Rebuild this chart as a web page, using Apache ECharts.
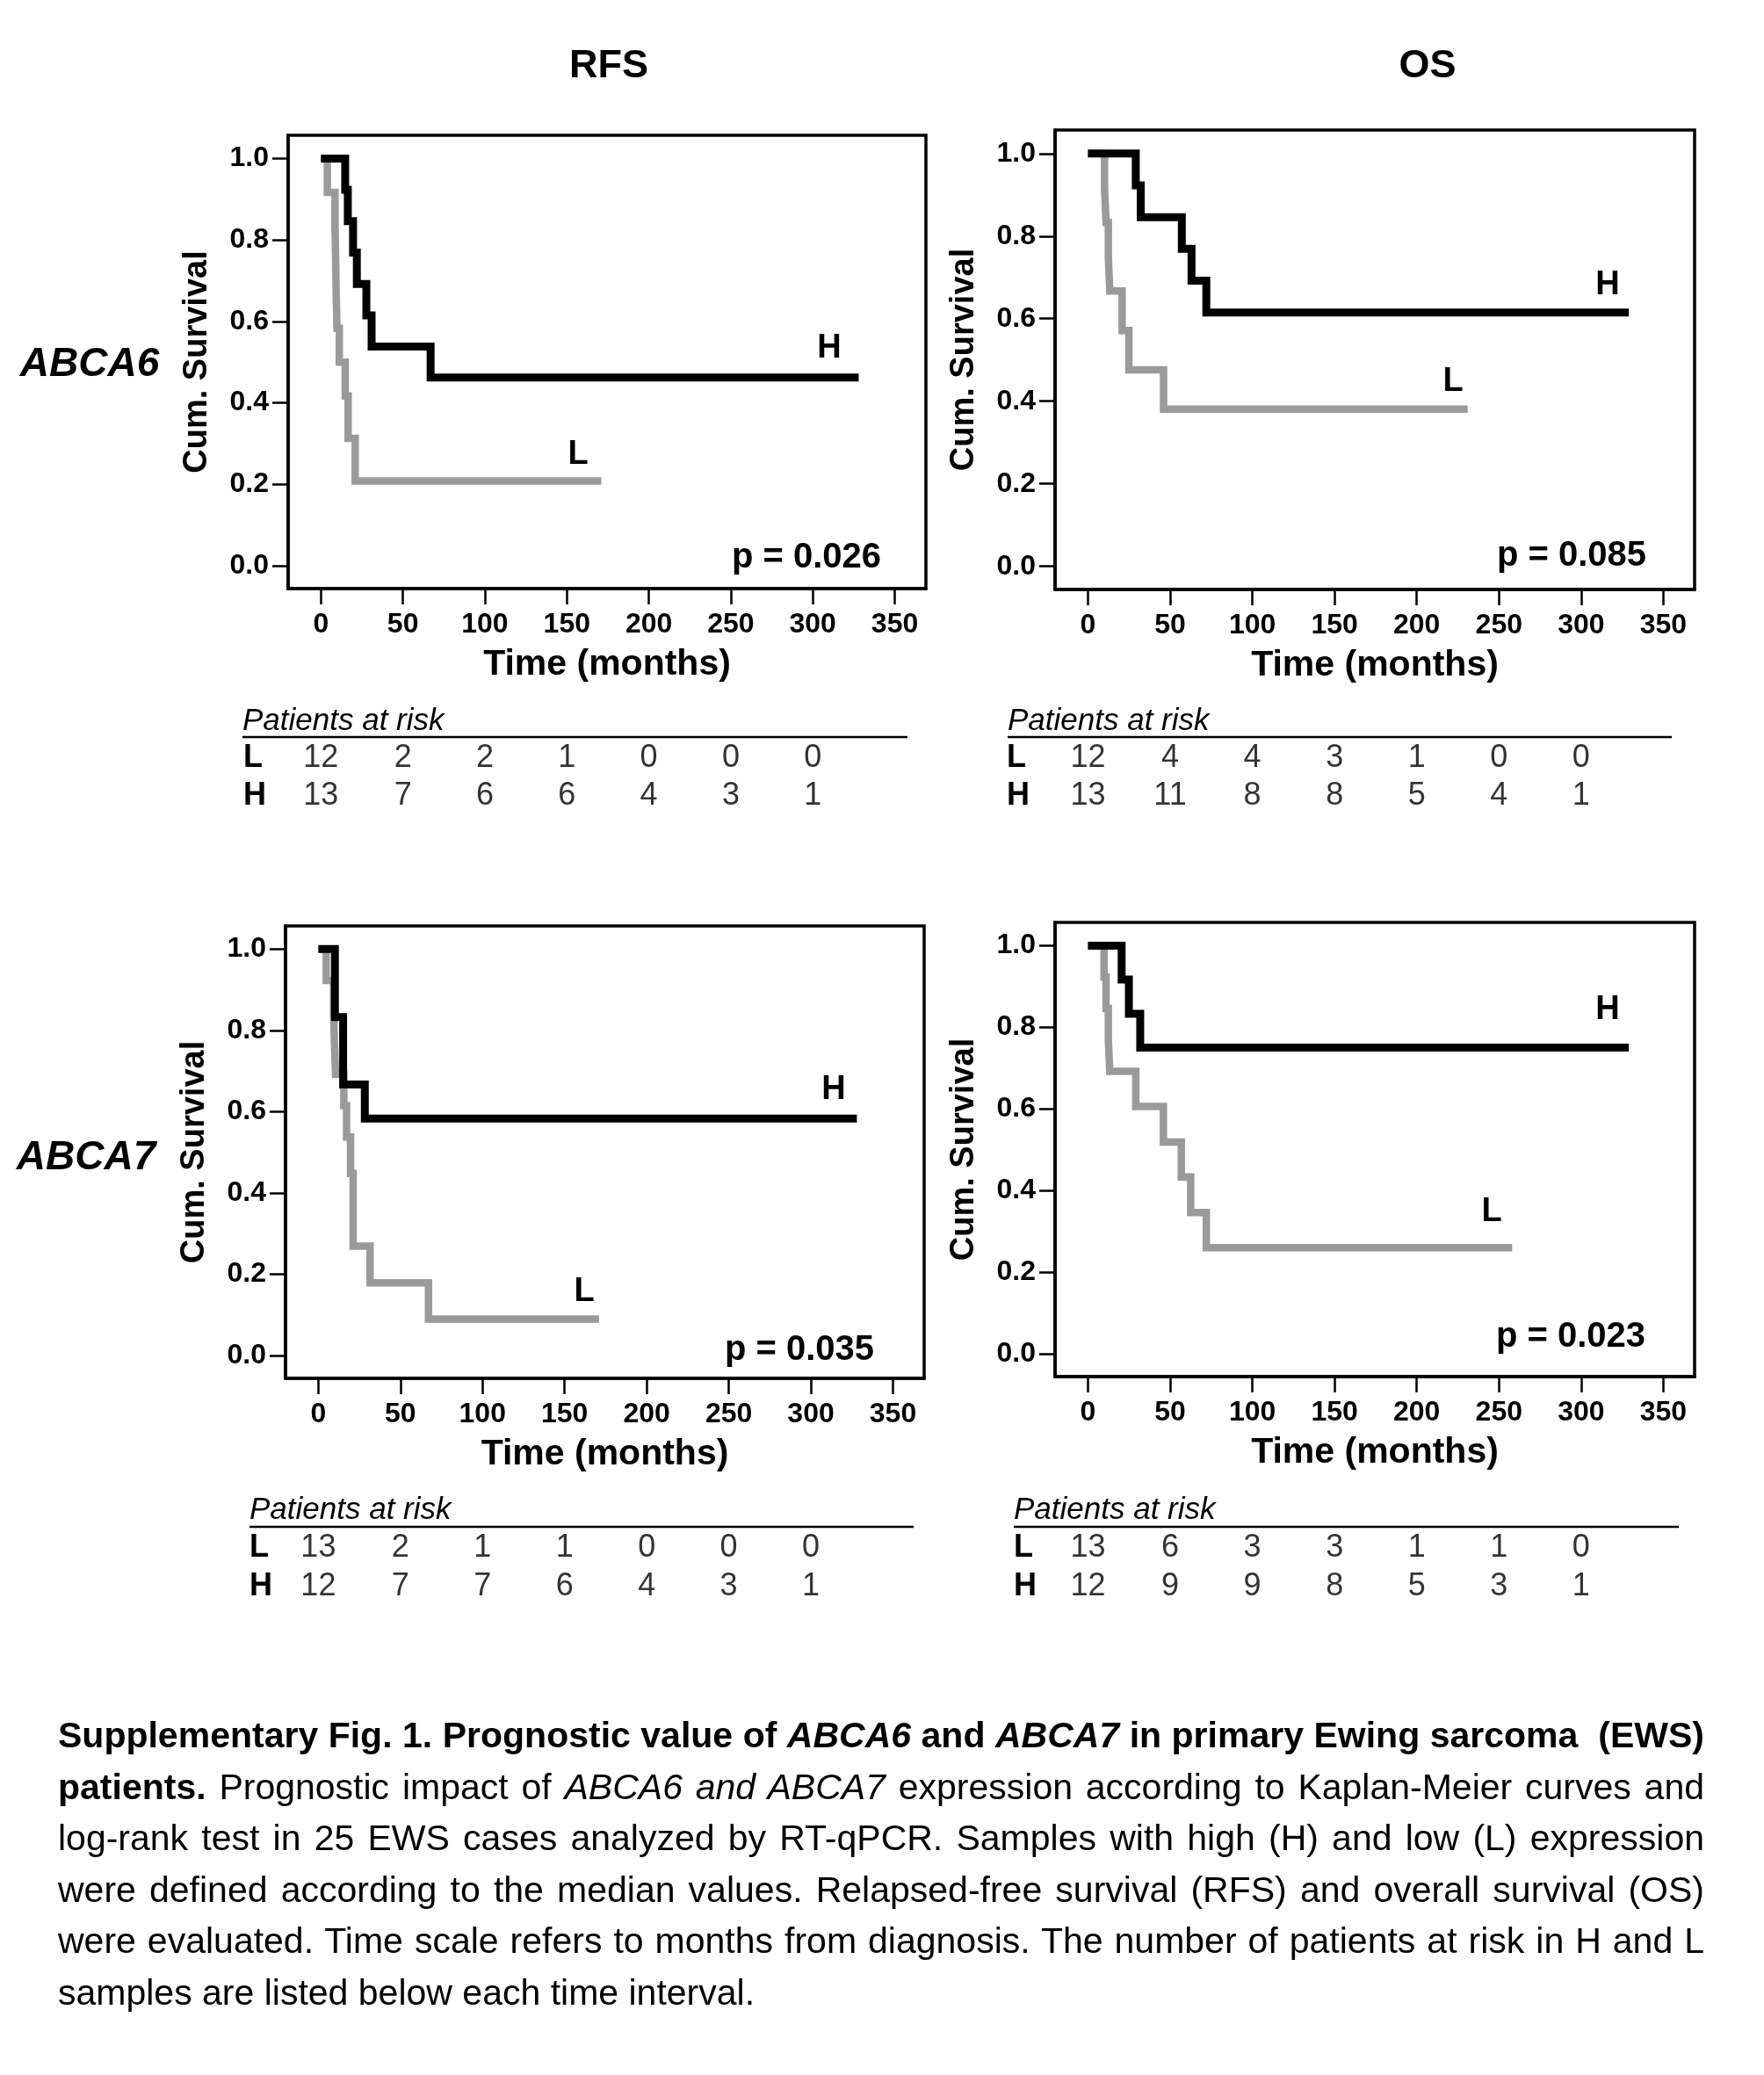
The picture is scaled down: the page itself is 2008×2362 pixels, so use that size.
<!DOCTYPE html>
<html>
<head>
<meta charset="utf-8">
<title>ABCA6 / ABCA7 Kaplan-Meier</title>
<script src="https://cdn.jsdelivr.net/npm/echarts@6.0.0/dist/echarts.min.js"></script>
<style>
  html, body { margin: 0; padding: 0; background: #fff; }
  #chart { position: absolute; left: 0; top: 0; width: 2008px; height: 2362px; }
  #caption { position: absolute; left: 66px; top: 1946px; width: 1874px;
             font-family: "Liberation Sans", Arial, sans-serif; font-size: 41px; color: #000; }
  #caption div { height: 58.6px; line-height: 58.6px; text-align: justify; text-align-last: justify; }
  #caption div.last { text-align-last: left; }
</style>
</head>
<body>
<div id="chart"></div>
<div id="caption">
  <div><b>Supplementary Fig. 1. Prognostic value of <i>ABCA6</i> and <i>ABCA7</i> in primary Ewing sarcoma&nbsp; (EWS)</b></div>
  <div><b>patients.</b> Prognostic impact of <i>ABCA6 and ABCA7</i> expression according to Kaplan-Meier curves and</div>
  <div>log-rank test in 25 EWS cases analyzed by RT-qPCR. Samples with high (H) and low (L) expression</div>
  <div>were defined according to the median values. Relapsed-free survival (RFS) and overall survival (OS)</div>
  <div>were evaluated. Time scale refers to months from diagnosis. The number of patients at risk in H and L</div>
  <div class="last">samples are listed below each time interval.</div>
</div>
<script>
// ticks
var xTicks = [0, 50, 100, 150, 200, 250, 300, 350];
var yTicks = [0, 0.2, 0.4, 0.6, 0.8, 1.0];
var riskTimes = [0, 50, 100, 150, 200, 250, 300];
var riskRows = ['L', 'H'];

// ABCA6 RFS (months, cum. survival)
var a6RfsH_t = [0, 14.8, 16.4, 19.6, 21.9, 27.7, 30.9, 66.9, 328];
var a6RfsH_s = [1, 0.923, 0.846, 0.769, 0.692, 0.615, 0.538, 0.462, 0.462];
var a6RfsL_t = [0, 3.9, 8.6, 9.0, 9.3, 9.8, 11.2, 14.8, 16.6, 20.9, 171];
var a6RfsL_s = [1, 0.917, 0.833, 0.75, 0.667, 0.583, 0.5, 0.417, 0.313, 0.208, 0.208];
var a6RfsRiskL = [12, 2, 2, 1, 0, 0, 0];
var a6RfsRiskH = [13, 7, 6, 6, 4, 3, 1];

// ABCA6 OS
var a6OsH_t = [0, 29.1, 32.1, 57.1, 63.0, 72.0, 329];
var a6OsH_s = [1, 0.923, 0.846, 0.769, 0.692, 0.615, 0.615];
var a6OsL_t = [0, 10.1, 11.0, 12.4, 13.3, 20.8, 24.9, 46.0, 231];
var a6OsL_s = [1, 0.917, 0.833, 0.75, 0.667, 0.571, 0.476, 0.381, 0.381];
var a6OsRiskL = [12, 4, 4, 3, 1, 0, 0];
var a6OsRiskH = [13, 11, 8, 8, 5, 4, 1];

// ABCA7 RFS
var a7RfsH_t = [0, 10.1, 15.1, 28.3, 328];
var a7RfsH_s = [1, 0.833, 0.667, 0.583, 0.583];
var a7RfsL_t = [0, 4.8, 9.3, 9.8, 10.5, 15.5, 17.2, 19.6, 21.2, 31.5, 67.1, 171];
var a7RfsL_s = [1, 0.923, 0.846, 0.769, 0.692, 0.615, 0.538, 0.448, 0.269, 0.179, 0.090, 0.090];
var a7RfsRiskL = [13, 2, 1, 1, 0, 0, 0];
var a7RfsRiskH = [12, 7, 7, 6, 4, 3, 1];

// ABCA7 OS
var a7OsH_t = [0, 20.5, 24.9, 31.8, 329];
var a7OsH_s = [1, 0.917, 0.833, 0.75, 0.75];
var a7OsL_t = [0, 9.8, 11.0, 12.4, 13.3, 29.1, 45.9, 56.8, 62.5, 72.0, 258];
var a7OsL_s = [1, 0.923, 0.846, 0.769, 0.692, 0.606, 0.519, 0.433, 0.346, 0.260, 0.260];
var a7OsRiskL = [13, 6, 3, 3, 1, 1, 0];
var a7OsRiskH = [12, 9, 9, 8, 5, 3, 1];

var FONT = '"Liberation Sans", Arial, sans-serif';

// layout of each panel (pixels)
var panels = [
  {grid: {left: 328, top: 154, width: 726, height: 516}, risk: {top: 842, height: 86, margin: 51},
   hT: a6RfsH_t, hS: a6RfsH_s, lT: a6RfsL_t, lS: a6RfsL_s, rL: a6RfsRiskL, rH: a6RfsRiskH,
   p: 'p = 0.026', pPos: [1003, 635], hPos: [944, 397], lPos: [658, 518],
   head: [276, 821, 1033, 839]},
  {grid: {left: 1201, top: 148, width: 728, height: 523}, risk: {top: 842, height: 86, margin: 55},
   hT: a6OsH_t, hS: a6OsH_s, lT: a6OsL_t, lS: a6OsL_s, rL: a6OsRiskL, rH: a6OsRiskH,
   p: 'p = 0.085', pPos: [1874, 633], hPos: [1830, 325], lPos: [1654, 435],
   head: [1147, 821, 1903, 839]},
  {grid: {left: 325, top: 1054, width: 727, height: 515}, risk: {top: 1740, height: 88, margin: 41},
   hT: a7RfsH_t, hS: a7RfsH_s, lT: a7RfsL_t, lS: a7RfsL_s, rL: a7RfsRiskL, rH: a7RfsRiskH,
   p: 'p = 0.035', pPos: [995, 1537], hPos: [949, 1241], lPos: [665, 1471],
   head: [284, 1719, 1040, 1738]},
  {grid: {left: 1201, top: 1050, width: 728, height: 517}, risk: {top: 1740, height: 88, margin: 47},
   hT: a7OsH_t, hS: a7OsH_s, lT: a7OsL_t, lS: a7OsL_s, rL: a7OsRiskL, rH: a7OsRiskH,
   p: 'p = 0.023', pPos: [1873, 1522], hPos: [1830, 1150], lPos: [1698, 1380],
   head: [1154, 1719, 1911, 1738]}
];

function zip(t, s) {
  var out = [];
  for (var i = 0; i < t.length; i++) out.push([t[i], s[i]]);
  return out;
}

function txt(x, y, text, font, align) {
  return {type: 'text', x: x, y: y, silent: true,
          style: {text: text, font: font, fill: '#000', textAlign: align || 'center', textVerticalAlign: 'middle'}};
}

var grids = [], xAxes = [], yAxes = [], series = [], graphics = [];

panels.forEach(function (pn, i) {
  var g = 2 * i, r = 2 * i + 1;
  grids.push({left: pn.grid.left, top: pn.grid.top, width: pn.grid.width, height: pn.grid.height,
              show: true, borderColor: '#000', borderWidth: 3.5, backgroundColor: 'transparent'});
  grids.push({left: pn.grid.left, top: pn.risk.top, width: pn.grid.width, height: pn.risk.height});

  xAxes.push({
    type: 'value', gridIndex: g, min: -20, max: 369,
    axisLine: {show: true, onZero: false, lineStyle: {color: '#000', width: 3.5}},
    axisTick: {show: true, customValues: xTicks, length: 18, lineStyle: {color: '#000', width: 2.5}},
    axisLabel: {customValues: xTicks, margin: 25, fontSize: 32, fontWeight: 'bold', color: '#000', fontFamily: FONT},
    splitLine: {show: false},
    name: 'Time (months)', nameLocation: 'middle', nameGap: 66,
    nameTextStyle: {fontSize: 41, fontWeight: 'bold', color: '#000', fontFamily: FONT}
  });
  yAxes.push({
    type: 'value', gridIndex: g, min: -0.056, max: 1.057,
    axisLine: {show: true, onZero: false, lineStyle: {color: '#000', width: 3.5}},
    axisTick: {show: true, customValues: yTicks, length: 18, lineStyle: {color: '#000', width: 2.5}},
    axisLabel: {customValues: yTicks, margin: 22, fontSize: 32, fontWeight: 'bold', color: '#000', fontFamily: FONT,
                formatter: function (v) { return v.toFixed(1); }},
    splitLine: {show: false},
    name: 'Cum. Survival', nameLocation: 'middle', nameGap: 84,
    nameTextStyle: {fontSize: 38, fontWeight: 'bold', color: '#000', fontFamily: FONT}
  });

  // risk table axes share the plot's time scale
  xAxes.push({type: 'value', gridIndex: r, min: -20, max: 369, show: false});
  yAxes.push({
    type: 'category', gridIndex: r, data: riskRows, inverse: true,
    axisLine: {show: false}, axisTick: {show: false}, splitLine: {show: false},
    axisLabel: {interval: 0, align: 'left', margin: pn.risk.margin, fontSize: 36, fontWeight: 'bold',
                color: '#000', fontFamily: FONT}
  });

  series.push({type: 'line', xAxisIndex: g, yAxisIndex: g, step: 'end', symbol: 'none', silent: true,
               data: zip(pn.lT, pn.lS), lineStyle: {color: '#9a9a9a', width: 8.5, join: 'miter', cap: 'butt'}});
  series.push({type: 'line', xAxisIndex: g, yAxisIndex: g, step: 'end', symbol: 'none', silent: true,
               data: zip(pn.hT, pn.hS), lineStyle: {color: '#000000', width: 9, join: 'miter', cap: 'butt'}});

  var riskData = [];
  riskTimes.forEach(function (t, k) {
    riskData.push([t, 0, pn.rL[k]]);
    riskData.push([t, 1, pn.rH[k]]);
  });
  series.push({type: 'scatter', xAxisIndex: r, yAxisIndex: r, symbolSize: 1, silent: true,
               itemStyle: {color: 'rgba(0,0,0,0)'}, data: riskData,
               label: {show: true, position: 'inside', fontSize: 36, color: '#000', fontFamily: FONT,
                       formatter: function (p) { return String(p.value[2]); }}});

  graphics.push(txt(pn.hPos[0], pn.hPos[1], 'H', 'bold 38px ' + FONT));
  graphics.push(txt(pn.lPos[0], pn.lPos[1], 'L', 'bold 38px ' + FONT));
  graphics.push(txt(pn.pPos[0], pn.pPos[1], pn.p, 'bold 40px ' + FONT, 'right'));
  graphics.push(txt(pn.head[0], pn.head[1], 'Patients at risk', 'italic 35px ' + FONT, 'left'));
  graphics.push({type: 'line', silent: true,
                 shape: {x1: pn.head[0], y1: pn.head[3], x2: pn.head[2], y2: pn.head[3]},
                 style: {stroke: '#000', lineWidth: 2.5}});
});

graphics.push(txt(693, 76, 'RFS', 'bold 45px ' + FONT));
graphics.push(txt(1625, 76, 'OS', 'bold 45px ' + FONT));
graphics.push(txt(102, 415, 'ABCA6', 'italic bold 46px ' + FONT));
graphics.push(txt(98, 1318, 'ABCA7', 'italic bold 46px ' + FONT));

var chart = echarts.init(document.getElementById('chart'), null, {renderer: 'canvas'});
chart.setOption({
  animation: false,
  backgroundColor: '#fff',
  textStyle: {fontFamily: FONT},
  grid: grids,
  xAxis: xAxes,
  yAxis: yAxes,
  series: series,
  graphic: graphics
});
</script>
</body>
</html>
